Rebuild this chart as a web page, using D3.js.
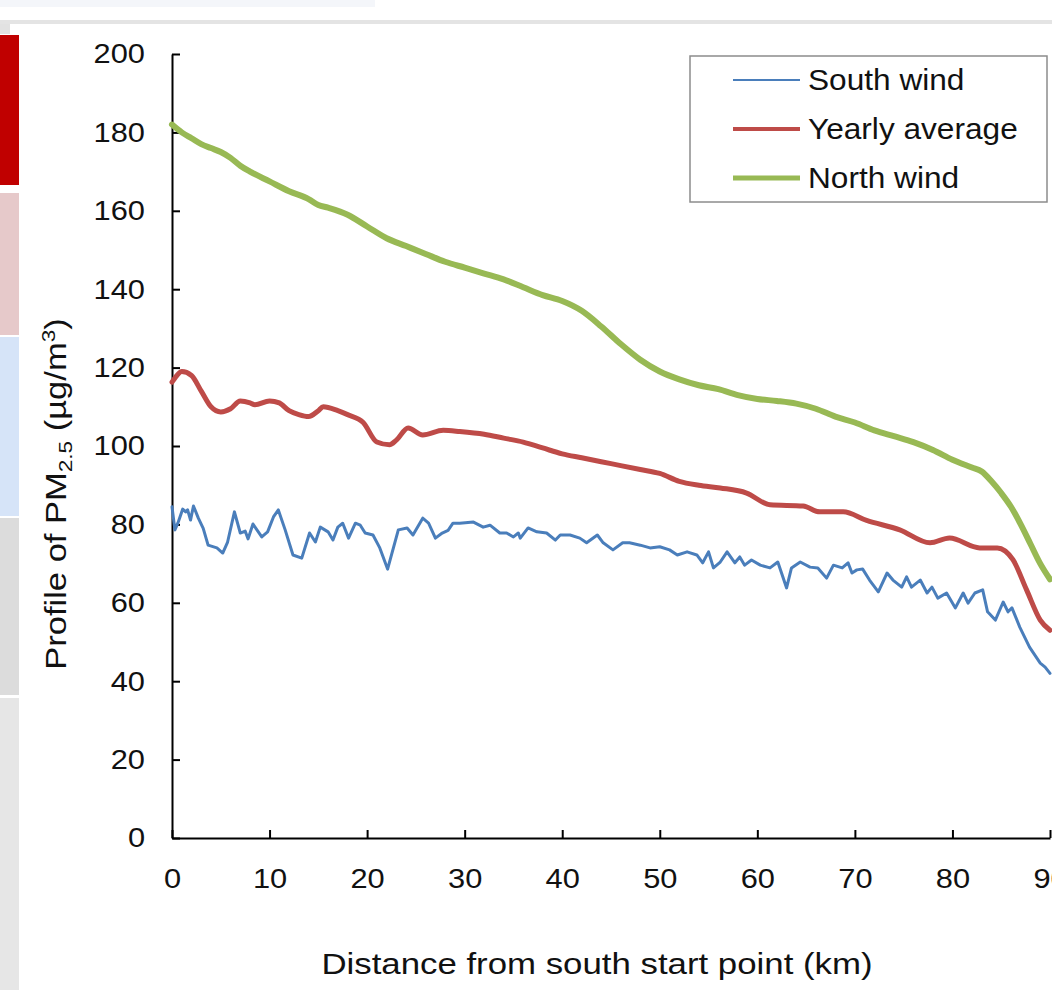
<!DOCTYPE html>
<html>
<head>
<meta charset="utf-8">
<script src="https://cdn.jsdelivr.net/npm/d3@7"></script>
<style>
  body { margin: 0; background: #fff; }
  svg { display: block; font-family: "Liberation Sans", Arial, sans-serif; }
</style>
</head>
<body>
<svg id="chart" width="1052" height="990"></svg>
<script>
'use strict';

// the data (km from south start point, PM2.5 in ug/m3)
var southKm = [0, 0.3, 0.6, 1.1, 1.4, 1.6, 1.9, 2.2, 2.7, 3.2, 3.7, 4.6, 5.2, 5.7, 6.4, 7, 7.5, 7.8, 8.3, 9.2,
  9.8, 10.4, 10.9, 11.6, 12.4, 13.3, 14.1, 14.7, 15.2, 16, 16.5, 17, 17.5, 18.1, 18.8, 19.3, 19.8, 20.6, 21.3, 22.1,
  23.2, 24.1, 24.7, 25.7, 26.3, 27, 27.7, 28.3, 28.8, 29.5, 30.9, 31.9, 32.6, 33.6, 34.3, 35, 35.5, 35.7, 36.5, 37.4,
  38.4, 39.3, 39.8, 40.8, 41.8, 42.5, 43.6, 44.2, 45.2, 46.2, 46.9, 48, 49, 50, 51, 51.8, 52.8, 53.8, 54.4, 55,
  55.5, 56.2, 56.9, 57.7, 58.2, 58.7, 59.4, 60.3, 61.3, 62.1, 63, 63.5, 64.4, 65.4, 66.2, 67.1, 67.8, 68.7, 69.3, 69.7,
  70.2, 70.8, 71.5, 72.4, 73.3, 73.9, 74.8, 75.3, 75.8, 76.7, 77.4, 77.9, 78.5, 79.4, 80.3, 81.1, 81.6, 82.3, 83.1, 83.6,
  84.4, 85.2, 85.7, 86.1, 86.9, 87.9, 89, 89.5, 90];
var southPm = [84.5, 78.6, 80.3, 83.9, 83.2, 83.7, 81.1, 84.7, 81.6, 79, 74.7, 74, 72.7, 75.5, 83.2, 77.8, 78.3, 76.3, 80.1, 76.8,
  78.1, 81.9, 83.7, 78.6, 72.2, 71.4, 77.8, 75.5, 79.3, 78.1, 76, 79.3, 80.3, 76.5, 80.3, 79.8, 77.8, 77.3, 74, 68.6,
  78.6, 79.1, 77.3, 81.6, 80.3, 76.5, 77.8, 78.5, 80.3, 80.3, 80.6, 79.3, 79.8, 77.8, 77.8, 76.8, 77.8, 76.5, 79.1, 78.1,
  77.8, 76, 77.3, 77.3, 76.5, 75.3, 77.3, 75.3, 73.5, 75.3, 75.3, 74.7, 74, 74.3, 73.5, 72.2, 73, 72.2, 70.2, 73,
  68.9, 70.4, 73, 70.2, 71.7, 69.6, 70.9, 69.6, 68.9, 70.4, 63.8, 68.9, 70.4, 69.1, 68.9, 66.3, 69.6, 68.9, 70.2, 67.6,
  68.4, 68.6, 65.8, 62.8, 67.6, 65.8, 64, 66.6, 64, 65.8, 62.5, 64, 61.2, 62.5, 58.7, 62.5, 59.9, 62.5, 63.3, 57.7,
  55.6, 60.2, 57.7, 58.7, 53.8, 48.7, 44.6, 43.6, 42];

var yearKm = [0, 0.5, 1, 2, 3, 4, 5, 6, 7, 8, 8.5, 10, 11, 12, 13, 14, 15, 15.5, 17, 18, 19.6, 21, 22.3, 23, 24.2, 25.7,
  27.8, 29.5, 32, 34, 36, 38, 40, 42, 44, 46, 48, 50, 52, 54, 56.2, 58.9, 61.3, 64.7, 66.4, 68.8, 71.2, 74.6, 77.7, 79.7,
  82.8, 84.6, 86.2, 87.6, 89, 90];
var yearPm = [116.3, 118, 119, 118, 114, 110, 108.7, 109.5, 111.5, 111, 110.5, 111.5, 111, 109, 108, 107.5, 109, 110, 109, 108, 106, 101, 100.3, 101.5, 104.6, 102.8,
  104, 103.7, 103, 102, 101, 99.5, 98, 97, 96, 95, 94, 93, 91, 90, 89.3, 88, 85, 84.7, 83.2, 83.2, 81, 78.6, 75.3, 76.5,
  74, 74, 71, 63.3, 55.6, 53];

var northKm = [0, 1, 2, 3, 4, 5, 6, 7, 8, 10, 12, 14, 15, 16, 18, 20, 22, 24, 26, 28, 30, 32, 34, 36, 38,
  40, 42, 44, 46, 48, 50, 52, 54, 56, 58, 60, 62, 64, 66, 68, 70, 72, 74, 76, 78, 80, 82, 83, 84, 85, 86, 87, 88, 89, 90];
var northPm = [182, 180, 178.5, 177, 176, 175, 173.5, 171.5, 170, 167.5, 165, 163, 161.5, 160.8, 159, 156, 153, 151, 149, 147, 145.5, 144, 142.5, 140.5, 138.5,
  137, 134.5, 130.5, 126, 122, 119, 117, 115.5, 114.5, 113, 112, 111.5, 110.8, 109.5, 107.5, 106, 104, 102.5, 101, 99, 96.5, 94.5, 93.5, 91, 88, 84.5, 80, 75, 70, 66];

var seriesNames = ['South wind', 'Yearly average', 'North wind'];
var xTicks = [0, 10, 20, 30, 40, 50, 60, 70, 80, 90];
var yTicks = [0, 20, 40, 60, 80, 100, 120, 140, 160, 180, 200];

var colors = ['#4a7ebb', '#be4b48', '#98b954'];
var widths = [3, 5, 6];

var svg = d3.select('#chart');

// the text in the picture is a bit wider than Liberation Sans, so stretch it
function widen(sel, k){
  sel.each(function(){
    var w = this.getComputedTextLength();
    d3.select(this).attr('textLength', w * k).attr('lengthAdjust', 'spacingAndGlyphs');
  });
}

// screenshot chrome: top bar and coloured strip on the left
svg.append('rect').attr('x', 0).attr('y', 0).attr('width', 375).attr('height', 7).attr('fill', '#f4f6fa');
svg.append('rect').attr('x', 0).attr('y', 20).attr('width', 1052).attr('height', 4).attr('fill', '#e4e4e4');
svg.append('rect').attr('x', 0).attr('y', 24).attr('width', 10).attr('height', 10).attr('fill', '#e2e2e2');
var strips = [
  {y: 35, h: 150, c: '#c00000'},
  {y: 193, h: 142, c: '#e6c9ca'},
  {y: 337, h: 179, c: '#d6e4f8'},
  {y: 518, h: 177, c: '#dcdcdc'},
  {y: 698, h: 292, c: '#e6e6e6'}
];
svg.selectAll('rect.strip').data(strips).enter().append('rect')
  .attr('class', 'strip')
  .attr('x', 0).attr('width', 19)
  .attr('y', function(d){ return d.y; })
  .attr('height', function(d){ return d.h; })
  .attr('fill', function(d){ return d.c; });

var x = d3.scaleLinear().domain([0, 90]).range([172, 1050]);
var y = d3.scaleLinear().domain([0, 200]).range([838, 54]);

// axes, ticks point inward
var yAxis = svg.append('g').attr('transform', 'translate(172,0)')
  .call(d3.axisLeft(y).tickValues(yTicks).tickSizeInner(-8).tickSizeOuter(0).tickPadding(27));
var xAxis = svg.append('g').attr('transform', 'translate(0,838)')
  .call(d3.axisBottom(x).tickValues(xTicks).tickSizeInner(-8).tickSizeOuter(0).tickPadding(30));
[yAxis, xAxis].forEach(function(g){
  g.selectAll('path, line').attr('stroke', '#000').attr('stroke-width', 2);
  g.selectAll('text').attr('font-size', 28).attr('fill', '#111')
    .attr('font-family', '"Liberation Sans", Arial, sans-serif')
    .call(widen, 1.1);
});

// the lines
var line = d3.line().curve(d3.curveMonotoneX)
  .x(function(d){ return x(d[0]); })
  .y(function(d){ return y(d[1]); });
var southLine = d3.line()
  .x(function(d){ return x(d[0]); })
  .y(function(d){ return y(d[1]); });

var series = [
  d3.zip(southKm, southPm),
  d3.zip(yearKm, yearPm),
  d3.zip(northKm, northPm)
];
series.forEach(function(s, i){
  svg.append('path')
    .datum(s)
    .attr('fill', 'none')
    .attr('stroke', colors[i])
    .attr('stroke-width', widths[i])
    .attr('stroke-linejoin', 'round')
    .attr('stroke-linecap', 'round')
    .attr('d', i === 0 ? southLine : line);
});

// legend
var legend = svg.append('g');
legend.append('rect').attr('x', 690).attr('y', 56).attr('width', 357).attr('height', 146)
  .attr('fill', '#fff').attr('stroke', '#8c8c8c').attr('stroke-width', 1.5);
var rows = legend.selectAll('g.row').data(seriesNames).enter().append('g')
  .attr('class', 'row')
  .attr('transform', function(d, i){ return 'translate(0,' + (80 + i * 49) + ')'; });
rows.append('line').attr('x1', 733).attr('x2', 800).attr('y1', 0).attr('y2', 0)
  .attr('stroke', function(d, i){ return colors[i]; })
  .attr('stroke-width', function(d, i){ return widths[i] - 1; });
rows.append('text').attr('x', 808).attr('y', 10).attr('font-size', 29).attr('fill', '#111')
  .text(function(d){ return d; })
  .call(widen, 1.09);

// axis titles
svg.append('text').attr('x', 597).attr('y', 974).attr('text-anchor', 'middle')
  .attr('font-size', 29).attr('fill', '#111')
  .text('Distance from south start point (km)')
  .call(widen, 1.2);

var yTitle = svg.append('text').attr('transform', 'translate(66,494) rotate(-90) scale(1.19,1)')
  .attr('text-anchor', 'middle').attr('font-size', 29).attr('fill', '#111');
yTitle.append('tspan').text('Profile of PM');
yTitle.append('tspan').attr('font-size', 19).attr('dy', 6).text('2.5');
yTitle.append('tspan').attr('dy', -6).text(' (\u00b5g/m');
yTitle.append('tspan').attr('font-size', 19).attr('dy', -11).text('3');
yTitle.append('tspan').attr('dy', 11).text(')');
</script>
</body>
</html>
